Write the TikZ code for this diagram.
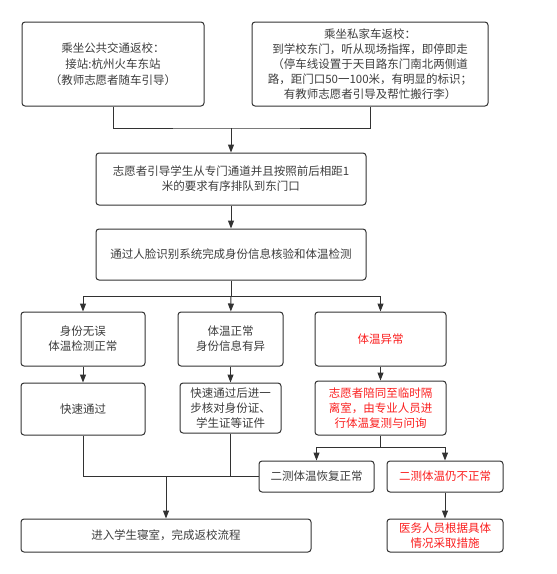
\documentclass[tikz,border=0pt]{standalone}
\usepackage{fontspec}
\setmainfont{Noto Sans CJK SC}
\usepackage{tikz}
\usetikzlibrary{arrows.meta,positioning,calc}
\definecolor{lineGray}{RGB}{50,50,50}
\definecolor{textGray}{RGB}{60,60,60}
\definecolor{alertRed}{RGB}{250,30,30}
\tikzset{
  flowbox/.style={draw=lineGray, line width=1pt, rounded corners=3pt, align=center,
    inner sep=0pt, text=textGray, font=\fontsize{11.5}{15}\selectfont},
  alertbox/.style={flowbox, text=alertRed},
  arr/.style={draw=lineGray, line width=1pt, -{Triangle[length=8pt,width=6pt]}},
  ln/.style={draw=lineGray, line width=1pt}
}

\begin{document}
\begin{tikzpicture}[x=1pt, y=-1pt]
    \useasboundingbox (0,0) rectangle (557,574);
    % two ways of returning
    \node[flowbox, minimum width=182, minimum height=84] (pub) at (113,64)
      {乘坐公共交通返校：\\[1pt] 接站:杭州火车东站\\[1pt]（教师志愿者随车引导）};
    \node[flowbox, minimum width=236, minimum height=84] (priv) at (370,64)
      {乘坐私家车返校：\\到学校东门，听从现场指挥，即停即走\\（停车线设置于天目路东门南北两侧道\\路，距门口50一100米，有明显的标识；\\有教师志愿者引导及帮忙搬行李）};
    \node[flowbox, minimum width=270, minimum height=52] (guide) at (231,179)
      {志愿者引导学生从专门通道并且按照前后相距1\\米的要求有序排队到东门口};
    \node[flowbox, minimum width=270, minimum height=51] (check) at (231,254.5)
      {通过人脸识别系统完成身份信息核验和体温检测};
    % three results of the check
    \node[flowbox, minimum width=124, minimum height=54] (okA) at (83,339)
      {身份无误\\体温检测正常};
    \node[flowbox, minimum width=105, minimum height=54] (idB) at (230.5,339)
      {体温正常\\身份信息有异};
    \node[alertbox, minimum width=131, minimum height=54] (feverC) at (380.5,339)
      {体温异常};
    \node[flowbox, minimum width=124, minimum height=52] (passA) at (83,409)
      {快速通过};
    \node[flowbox, minimum width=101, minimum height=50] (verifyB) at (230.5,408)
      {快速通过后进一\\步核对身份证、\\学生证等证件};
    \node[alertbox, minimum width=131, minimum height=54] (isolC) at (380.5,408)
      {志愿者陪同至临时隔\\离室，由专业人员进\\行体温复测与问询};
    \node[flowbox, minimum width=115, minimum height=31] (recov) at (316.5,476.5)
      {二测体温恢复正常};
    \node[alertbox, minimum width=116, minimum height=31] (still) at (445,476.5)
      {二测体温仍不正常};
    \node[flowbox, minimum width=290, minimum height=33] (dorm) at (166,535.5)
      {进入学生寝室，完成返校流程};
    \node[alertbox, minimum width=116, minimum height=33] (medic) at (445,535.5)
      {医务人员根据具体\\情况采取措施};
    % junctions
    \coordinate (topJ) at (231,128);
    \coordinate (splitJ) at (231,296);
    \coordinate (retestJ) at (380.5,447);
    \coordinate (mergeJ) at (dorm.north |- recov.west);
    % connectors
    \draw[ln] (pub.south) |- (topJ) -| (priv.south);
    \draw[arr] (topJ) -- (guide);
    \draw[arr] (guide) -- (check);
    \draw[ln] (check) -- (splitJ);
    \draw[arr] (splitJ) -| (okA);
    \draw[arr] (splitJ) -- (idB);
    \draw[arr] (splitJ) -| (feverC);
    \draw[arr] (okA) -- (passA);
    \draw[arr] (idB) -- (verifyB);
    \draw[arr] (feverC) -- (isolC);
    \draw[ln] (isolC) -- (retestJ);
    \draw[arr] (retestJ) -| (recov);
    \draw[arr] (retestJ) -| (still);
    \draw[arr] (still) -- (medic);
    \draw[ln] (passA.south) |- (recov.west);
    \draw[ln] (verifyB.south) -- (verifyB.south |- recov.west);
    \draw[arr] (mergeJ) -- (dorm);
  \end{tikzpicture}
\end{document}
